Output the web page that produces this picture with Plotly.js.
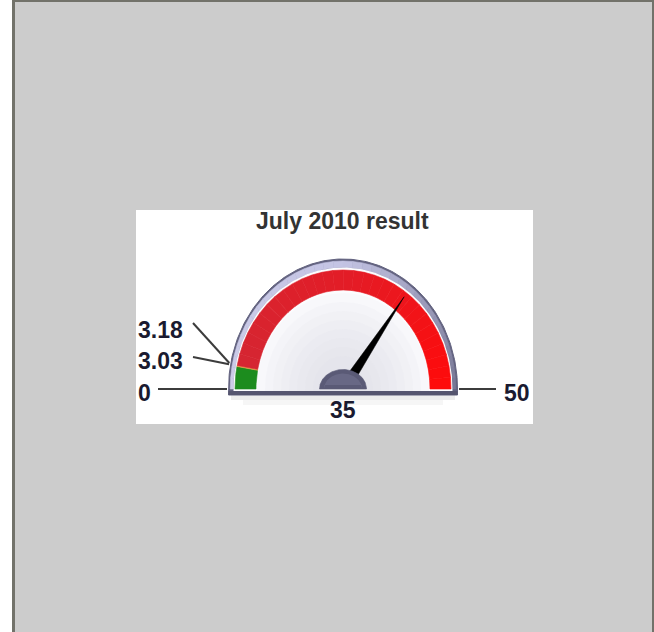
<!DOCTYPE html>
<html><head><meta charset="utf-8">
<script src="https://cdn.plot.ly/plotly-3.0.1.min.js"></script>
<style>html,body{margin:0;padding:0;background:#cccccc;} #chart{width:654px;height:632px;}</style>
</head><body><div id="chart"></div>
<script>
// ---------------- data ----------------
const chartTitle = "July 2010 result";
const gaugeMin = 0;
const gaugeMax = 50;
const gaugeValue = 35;
const bandStarts = [0, 3.03, 3.18];
const bandEnds = [3.03, 3.18, 50];
const tickValues = [0, 3.03, 3.18, 50];
const tickLabels = ["0", "3.03", "3.18", "50"];

// ---------------- style / layout constants ----------------
const W = 654, H = 632;
const CX = 343, CY = 389;                 // gauge centre in page pixels
const LABEL_FONT = "Liberation Sans, Arial, sans-serif";
const bandColors = ["#1c8c1e", "#e8a048", null]; // last band gets gradient
const redStops = [[212, 38, 50], [228, 28, 38], [255, 10, 10]];
const rimStops = [[204, 204, 232], [196, 196, 228], [118, 118, 148]];
// label anchor positions (x, y in gauge px units, y up) and leader-line start
const tickLabelPos = [[-207, -4], [-207, 28], [-207, 59], [159, -4]];
const tickLineStart = [[-185, 0], [-150, 32], [-150, 66], [153, 0]];
const tickAnchor = ["left", "left", "left", "left"];

function ang(v) { return Math.PI * (1 - (v - gaugeMin) / (gaugeMax - gaugeMin)); }
function lerp(a, b, t) { return a + (b - a) * t; }
function lerpColor(stops, t) {
  let c;
  if (t <= 0.5) { const u = t / 0.5; c = stops[0].map((v, i) => lerp(v, stops[1][i], u)); }
  else { const u = (t - 0.5) / 0.5; c = stops[1].map((v, i) => lerp(v, stops[2][i], u)); }
  return "rgb(" + c.map(Math.round).join(",") + ")";
}
function arcPts(a0, a1, rx, ry) {
  const n = Math.max(2, Math.ceil(Math.abs(a1 - a0) * 180 / Math.PI));
  const xs = [], ys = [];
  for (let i = 0; i <= n; i++) {
    const a = a0 + (a1 - a0) * i / n;
    xs.push(rx * Math.cos(a)); ys.push(ry * Math.sin(a));
  }
  return [xs, ys];
}
function ring(a0, a1, rxo, ryo, rxi, ryi) {
  const [xo, yo] = arcPts(a0, a1, rxo, ryo);
  const [xi, yi] = arcPts(a1, a0, rxi, ryi);
  const x = xo.concat(xi), y = yo.concat(yi);
  x.push(x[0]); y.push(y[0]);
  return [x, y];
}
function halfEllipse(rx, ry, yBottom) {
  const [x, y] = arcPts(Math.PI, 0, rx, ry);
  x.unshift(-rx); y.unshift(yBottom);
  x.push(rx); y.push(yBottom);
  x.push(-rx); y.push(yBottom);
  return [x, y];
}
function poly(x, y, color, lineColor, lw) {
  return { type: "scatter", mode: "lines", x: x, y: y, fill: "toself", fillcolor: color,
    line: { color: lineColor || color, width: lw === undefined ? 0.6 : lw }, hoverinfo: "skip" };
}

const traces = [];
// drop shadow under the base
traces.push(poly([-112, 112, 112, -112, -112], [-6, -6, -11, -11, -6], "rgba(0,0,0,0.07)", "rgba(0,0,0,0)", 0));
traces.push(poly([-100, 100, 100, -100, -100], [-11, -11, -16, -16, -11], "rgba(0,0,0,0.035)", "rgba(0,0,0,0)", 0));
// bezel body (dark outline + base)
{ const [x, y] = halfEllipse(114.5, 130, -6); traces.push(poly(x, y, "#62627f", "#62627f", 1)); }
// rim with angular shading
{
  const N = 36;
  for (let i = 0; i < N; i++) {
    const a0 = Math.PI * (1 - i / N), a1 = Math.PI * (1 - (i + 1) / N);
    const [x, y] = ring(a0, a1, 112.8, 128, 109.5, 121.5);
    const c = lerpColor(rimStops, (i + 0.5) / N);
    traces.push(poly(x, y, c, c, 0.6));
  }
}
// face
{ const [x, y] = halfEllipse(109.5, 121.5, -2); traces.push(poly(x, y, "#fcfcfe", "#fcfcfe", 0)); }
// face soft shading toward centre (many faint layers for a smooth gradient)
for (let k = 0; k < 8; k++) {
  const rx = 86 - k * 8, ry = 96 - k * 9;
  const [x, y] = halfEllipse(rx, ry, -2);
  traces.push(poly(x, y, "rgba(215,215,230,0.11)", "rgba(0,0,0,0)", 0));
}
// colour bands
for (let b = 0; b < bandStarts.length; b++) {
  const a0 = ang(bandStarts[b]), a1 = ang(bandEnds[b]);
  if (bandColors[b]) {
    const [x, y] = ring(a0, a1, 108, 119, 87, 99);
    traces.push(poly(x, y, bandColors[b], bandColors[b], 0.6));
  } else {
    const N = 30;
    for (let i = 0; i < N; i++) {
      const s0 = a0 + (a1 - a0) * i / N, s1 = a0 + (a1 - a0) * (i + 1) / N;
      const [x, y] = ring(s0, s1, 108, 119, 87, 99);
      const c = lerpColor(redStops, (i + 0.5) / N);
      traces.push(poly(x, y, c, c, 0.6));
    }
  }
}
// bottom base line
traces.push(poly([-114.5, 114.5, 114.5, -114.5, -114.5], [-2, -2, -6, -6, -2], "#55556f", "#55556f", 0));
// needle
{
  const a = ang(gaugeValue);
  const tx = 104 * Math.cos(a), ty = 114 * Math.sin(a);
  const bx = 8 * Math.cos(a), by = 8 * Math.sin(a);
  const px = -Math.sin(a) * 5, py = Math.cos(a) * 5;
  traces.push(poly([bx + px, tx, bx - px, bx + px], [by + py, ty, by - py, by + py], "#000000", "#000000", 0.5));
}
// hub
{ const [x, y] = halfEllipse(23.5, 19.5, 0); traces.push(poly(x, y, "#5a5a76", "#5a5a76", 0.6)); }
{ const [x, y] = halfEllipse(19, 15.5, 4); traces.push(poly(x, y, "rgba(140,140,170,0.3)", "rgba(0,0,0,0)", 0)); }
// leader lines for tick labels
for (let i = 0; i < tickValues.length; i++) {
  const a = ang(tickValues[i]);
  const ex = 116 * Math.cos(a), ey = 131 * Math.sin(a);
  traces.push({ type: "scatter", mode: "lines", x: [tickLineStart[i][0], ex], y: [tickLineStart[i][1], ey],
    line: { color: "#3c3c3c", width: 2 }, hoverinfo: "skip" });
}

const annotations = [];
annotations.push({ x: -1, y: 168, xref: "x", yref: "y", text: "<b>" + chartTitle + "</b>", showarrow: false,
  xanchor: "center", yanchor: "middle", font: { family: LABEL_FONT, size: 23, color: "#333333" } });
for (let i = 0; i < tickValues.length; i++) {
  annotations.push({ x: tickLabelPos[i][0], y: tickLabelPos[i][1], xref: "x", yref: "y",
    text: "<b>" + tickLabels[i] + "</b>", showarrow: false, xanchor: tickAnchor[i], yanchor: "middle",
    font: { family: LABEL_FONT, size: 23, color: "#1a1a30" } });
}
annotations.push({ x: 0, y: -21, xref: "x", yref: "y", text: "<b>" + String(gaugeValue) + "</b>", showarrow: false,
  xanchor: "center", yanchor: "middle", font: { family: LABEL_FONT, size: 23, color: "#1a1a30" } });

const shapes = [
  { type: "rect", xref: "paper", yref: "paper", x0: 0, x1: 12 / W, y0: 0, y1: 1, fillcolor: "#ffffff", line: { width: 0 }, layer: "below" },
  { type: "rect", xref: "paper", yref: "paper", x0: 12 / W, x1: 15 / W, y0: 0, y1: 1, fillcolor: "#72726a", line: { width: 0 }, layer: "below" },
  { type: "rect", xref: "paper", yref: "paper", x0: 12 / W, x1: 1, y0: 1 - 2 / H, y1: 1, fillcolor: "#72726a", line: { width: 0 }, layer: "below" },
  { type: "rect", xref: "paper", yref: "paper", x0: 652 / W, x1: 1, y0: 0, y1: 1, fillcolor: "#72726a", line: { width: 0 }, layer: "below" },
  { type: "rect", xref: "paper", yref: "paper", x0: 136 / W, x1: 533 / W, y0: 1 - 424 / H, y1: 1 - 210 / H, fillcolor: "#ffffff", line: { width: 0 }, layer: "below" }
];

const layout = {
  width: W, height: H, margin: { l: 0, r: 0, t: 0, b: 0, pad: 0 },
  paper_bgcolor: "#cccccc", plot_bgcolor: "rgba(0,0,0,0)",
  showlegend: false, hovermode: false,
  xaxis: { range: [-CX, W - CX], visible: false, fixedrange: true },
  yaxis: { range: [CY - H, CY], visible: false, fixedrange: true },
  shapes: shapes, annotations: annotations
};
Plotly.newPlot("chart", traces, layout, { staticPlot: true, displayModeBar: false });
</script></body></html>
